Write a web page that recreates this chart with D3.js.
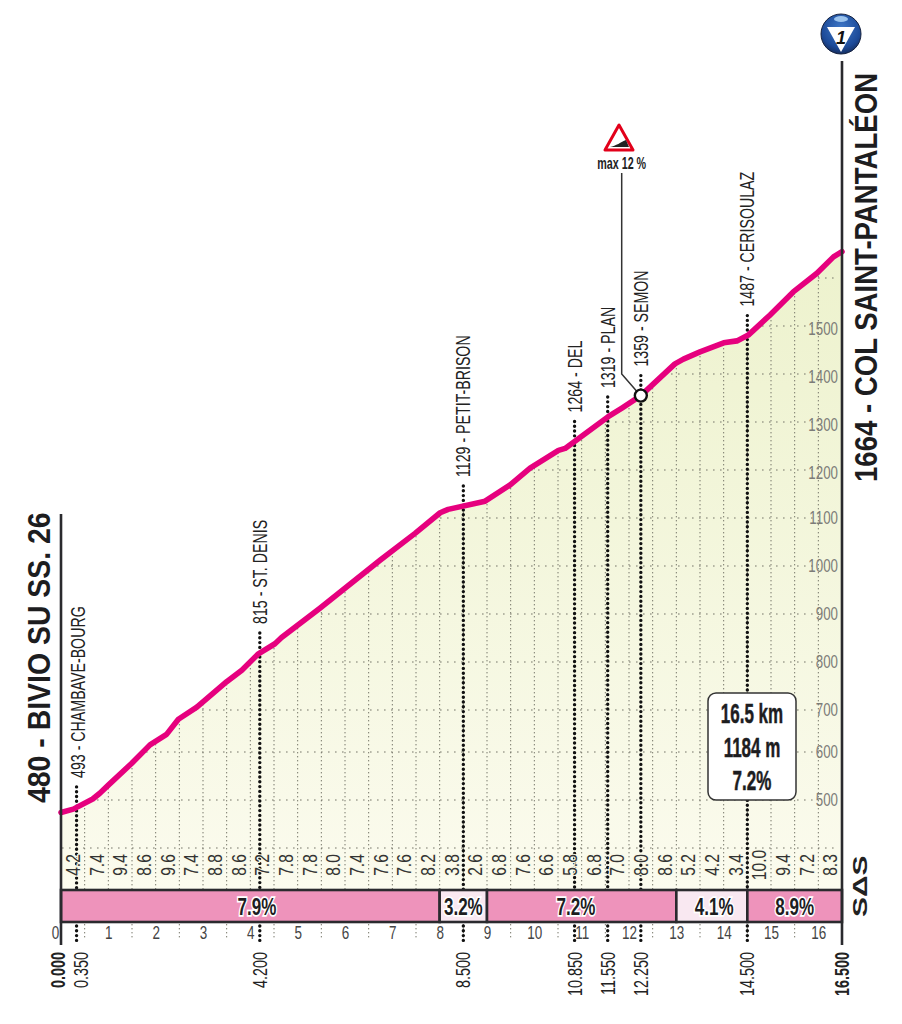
<!DOCTYPE html>
<html>
<head>
<meta charset="utf-8">
<script src="https://cdn.jsdelivr.net/npm/d3@7"></script>
<style>
body { margin: 0; background: #fff; }
text { font-family: "Liberation Sans", sans-serif; }
</style>
</head>
<body>
<script>

// profile
var profileKm = [0, 0.26, 0.67, 0.82, 1.0, 1.49, 1.88, 2.23, 2.48, 2.87, 3.5, 3.82, 4.17, 4.52, 4.66, 5.47, 6.74, 7.48, 8.01, 8.18, 8.96, 9.49, 9.91, 10.51, 10.65, 11.56, 11.85, 12.25, 12.97, 13.15, 13.5, 14.0, 14.28, 14.52, 14.98, 15.47, 15.97, 16.32, 16.5];
var profileElev = [474, 481, 502, 514, 531, 576, 617, 642, 678, 706, 759, 783, 817, 838, 851, 912, 1012, 1068, 1111, 1118, 1135, 1169, 1204, 1241, 1245, 1311, 1329, 1355, 1421, 1431, 1446, 1465, 1469, 1481, 1523, 1571, 1610, 1644, 1655];

var elevTicks = [500, 600, 700, 800, 900, 1000, 1100, 1200, 1300, 1400, 1500];
var elevGrid = [400, 500, 600, 700, 800, 900, 1000, 1100, 1200, 1300, 1400, 1500, 1600];
var kmTicks = d3.range(0, 17);

var halfKmGrades = [4.2, 7.4, 9.4, 8.6, 9.6, 7.4, 8.8, 8.6, 7.2, 7.8, 7.8, 8.0, 7.4, 7.6, 7.6, 8.2, 3.8, 2.6, 6.8, 7.6, 6.6, 5.8, 6.8, 7.0, 8.0, 8.6, 5.2, 4.2, 3.4, 10.0, 9.4, 7.2, 8.3];

var segStart = [0, 8, 9, 13, 14.5];
var segEnd = [8, 9, 13, 14.5, 16.5];
var segGrade = [7.9, 3.2, 7.2, 4.1, 8.9];
var segLabelKm = [4.14, 8.5, 10.88, 13.8, 15.5];

var wayKm = [0.35, 4.2, 8.5, 10.85, 11.55, 12.25, 14.5];
var wayNames = ["493 - CHAMBAVE-BOURG", "815 - ST. DENIS", "1129 - PETIT-BRISON", "1264 - DEL", "1319 - PLAN", "1359 - SEMON", "1487 - CERISOULAZ"];
var wayDist = ["0.350", "4.200", "8.500", "10.850", "11.550", "12.250", "14.500"];

var summary = ["16.5 km", "1184 m", "7.2%"];

var width = 902,
    height = 1024,
    bandTop = 890,
    bandBottom = 922,
    axisBottom = 945,
    ink = "#2a2a2e",
    pink = "#ee93bb",
    palePink = "#f9e8f1",
    lineColor = "#e6007e";

var x = d3.scaleLinear().domain([0, 16.5]).range([61, 842]);
// the printed grid has a kink between 600 and 700
var y = d3.scaleLinear().domain([400, 600, 700, 1600]).range([848, 752, 710, 278]);
var elevAt = d3.scaleLinear().domain(profileKm).range(profileElev);

var profile = profileKm.map(function (d, i) { return [d, profileElev[i]]; });

var svg = d3.select("body").append("svg")
            .attr("width", width)
            .attr("height", height)
            .style("display", "block");

var defs = svg.append("defs");

var fillGrad = defs.append("linearGradient").attr("id", "areaFill")
                   .attr("gradientUnits", "userSpaceOnUse")
                   .attr("x1", 0).attr("x2", 0).attr("y1", 250).attr("y2", 890);
fillGrad.append("stop").attr("offset", 0).attr("stop-color", "#edf2cd");
fillGrad.append("stop").attr("offset", 1).attr("stop-color", "#fbfbee");

var ballGrad = defs.append("radialGradient").attr("id", "ball")
                   .attr("cx", 0.5).attr("cy", 0.35).attr("r", 0.7);
ballGrad.append("stop").attr("offset", 0).attr("stop-color", "#3f78c8");
ballGrad.append("stop").attr("offset", 0.7).attr("stop-color", "#1c4a98");
ballGrad.append("stop").attr("offset", 1).attr("stop-color", "#14264f");

var area = d3.area()
             .x(function (d) { return x(d[0]); })
             .y1(function (d) { return y(d[1]); })
             .y0(bandTop);

defs.append("clipPath").attr("id", "under")
    .append("path").attr("d", area(profile));

svg.append("path").attr("d", area(profile)).attr("fill", "url(#areaFill)");

// grid, clipped to the area under the road
var grid = svg.append("g").attr("clip-path", "url(#under)");

grid.selectAll("line.v").data(d3.range(0.5, 16.5, 0.5)).enter().append("line")
    .attr("class", "v")
    .attr("x1", function (d) { return x(d); })
    .attr("x2", function (d) { return x(d); })
    .attr("y1", 240).attr("y2", bandTop)
    .attr("stroke", "#77776a").attr("stroke-width", 1)
    .attr("stroke-dasharray", "1.4,2.6");

grid.selectAll("line.h").data(elevGrid).enter().append("line")
    .attr("class", "h")
    .attr("x1", 62)
    .attr("x2", function (d) { return (d == 400 || d == 1600) ? 838 : 813; })
    .attr("y1", function (d) { return y(d); })
    .attr("y2", function (d) { return y(d); })
    .attr("stroke", "#77776a").attr("stroke-width", 1.1)
    .attr("stroke-dasharray", "1.6,5.4");

// dotted ticks under the band, odd half km only
svg.selectAll("line.lowtick").data(d3.range(0.5, 16.5, 1)).enter().append("line")
    .attr("class", "lowtick")
    .attr("x1", function (d) { return x(d); })
    .attr("x2", function (d) { return x(d); })
    .attr("y1", bandBottom + 2).attr("y2", 938)
    .attr("stroke", "#77776a").attr("stroke-dasharray", "1.4,2.6");

// waypoint dots
var wayTop = function (km) { return y(elevAt(km)) - 20; };
var wayX = function (km) { return x(km) - (km == 0.35 ? 1 : 0); };

svg.selectAll("line.way").data(wayKm).enter().append("line")
    .attr("class", "way")
    .attr("x1", wayX)
    .attr("x2", wayX)
    .attr("y1", function (d) { return wayTop(d); })
    .attr("y2", bandTop)
    .attr("stroke", "#111").attr("stroke-width", 3.4)
    .attr("stroke-linecap", "round").attr("stroke-dasharray", "0,4.8");

svg.selectAll("line.waylow").data(wayKm).enter().append("line")
    .attr("class", "waylow")
    .attr("x1", wayX)
    .attr("x2", wayX)
    .attr("y1", bandBottom + 4).attr("y2", axisBottom - 1)
    .attr("stroke", "#111").attr("stroke-width", 3.4)
    .attr("stroke-linecap", "round").attr("stroke-dasharray", "0,4.8");

// half km gradients
svg.selectAll("text.grade").data(halfKmGrades).enter().append("text")
    .attr("class", "grade")
    .attr("transform", function (d, i) { return "translate(" + (x((i + 0.5) * 0.5) + 7) + ",865) rotate(-90) scale(0.78,1)"; })
    .attr("text-anchor", "middle")
    .attr("font-size", 20)
    .attr("fill", "#333")
    .attr("stroke", "#f9f9e8").attr("stroke-width", 2.5)
    .style("paint-order", "stroke")
    .text(function (d) { return d.toFixed(1); });

// road
svg.append("path")
   .attr("d", d3.line().x(function (d) { return x(d[0]); }).y(function (d) { return y(d[1]); })(profile))
   .attr("fill", "none")
   .attr("stroke", lineColor).attr("stroke-width", 5.6)
   .attr("stroke-linecap", "round").attr("stroke-linejoin", "round");

// gradient band
svg.selectAll("rect.seg").data(segGrade).enter().append("rect")
   .attr("class", "seg")
   .attr("x", function (d, i) { return x(segStart[i]); })
   .attr("width", function (d, i) { return x(segEnd[i]) - x(segStart[i]); })
   .attr("y", bandTop).attr("height", bandBottom - bandTop)
   .attr("fill", function (d) { return d < 5 ? palePink : pink; })
   .attr("stroke", ink).attr("stroke-width", 2.6);

svg.selectAll("text.seg").data(segGrade).enter().append("text")
   .attr("class", "seg")
   .attr("transform", function (d, i) { return "translate(" + x(segLabelKm[i]) + ",914.5) scale(0.71,1)"; })
   .attr("text-anchor", "middle")
   .attr("font-size", 24).attr("font-weight", "bold")
   .attr("fill", "#1d1d1f")
   .attr("stroke", "#fff").attr("stroke-width", 3.5)
   .style("paint-order", "stroke")
   .text(function (d) { return d.toFixed(1) + "%"; });

// km axis
var kmAxis = svg.append("g")
   .attr("transform", "translate(0," + bandBottom + ")")
   .call(d3.axisBottom(x).tickValues(kmTicks).tickSize(0).tickPadding(4).tickFormat(d3.format("d")));
kmAxis.select(".domain").remove();
kmAxis.selectAll("text")
      .attr("font-size", 18).attr("fill", "#444")
      .style("font-family", "\"Liberation Sans\"")
      .attr("transform", "scale(0.75,1)")
      .attr("dx", function (d) { return d == 0 ? -8 : 0; });

// elevation axis
var elevAxis = svg.append("g")
   .attr("transform", "translate(838,0)")
   .call(d3.axisLeft(y).tickValues(elevTicks).tickSize(0).tickPadding(0).tickFormat(d3.format("d")));
elevAxis.select(".domain").remove();
elevAxis.selectAll("text")
        .attr("font-size", 18).attr("fill", "#7c7c78")
        .style("font-family", "\"Liberation Sans\"")
        .attr("transform", function (d) { return "translate(0," + (d >= 1200 ? 3 : 0) + ") scale(0.74,1)"; });

// frame lines
svg.append("line").attr("x1", x(0)).attr("x2", x(0)).attr("y1", 514).attr("y2", axisBottom)
   .attr("stroke", ink).attr("stroke-width", 2.6);
svg.append("line").attr("x1", x(16.5)).attr("x2", x(16.5)).attr("y1", 61).attr("y2", axisBottom)
   .attr("stroke", ink).attr("stroke-width", 2.6);

// waypoint names
svg.selectAll("text.wayname").data(wayNames).enter().append("text")
   .attr("class", "wayname")
   .attr("transform", function (d, i) { return "translate(" + (x(wayKm[i]) + 7) + "," + (wayTop(wayKm[i]) - 9) + ") rotate(-90) scale(0.71,1)"; })
   .attr("font-size", 20).attr("fill", "#222")
   .text(function (d) { return d; });

// distances under the axis
var distText = function (label, km, dx, bold) {
  svg.append("text")
     .attr("transform", "translate(" + (x(km) + dx) + ",952) rotate(-90) scale(0.72,1)")
     .attr("text-anchor", "end")
     .attr("font-size", 20).attr("fill", "#222")
     .attr("font-weight", bold ? "bold" : "normal")
     .text(label);
};
distText("0.000", 0, 4, true);
distText("16.500", 16.5, 7, true);
wayDist.forEach(function (d, i) { distText(d, wayKm[i], wayKm[i] == 0.35 ? 10 : 7, false); });

// end labels
svg.append("text").attr("transform", "translate(50,803) rotate(-90) scale(0.917,1)")
   .attr("font-size", 31).attr("font-weight", "bold").attr("fill", "#1d1d1f")
   .text("480 - BIVIO SU SS. 26");
svg.append("text").attr("transform", "translate(877,482) rotate(-90) scale(0.89,1)")
   .attr("font-size", 31).attr("font-weight", "bold").attr("fill", "#1d1d1f")
   .text("1664 - COL SAINT-PANTALÉON");

// max gradient marker
svg.append("path").attr("d", "M621.7,173V374L" + (x(12.25) - 3) + "," + (y(elevAt(12.25)) - 3))
   .attr("fill", "none").attr("stroke", "#333").attr("stroke-width", 1.5);
svg.append("circle").attr("cx", x(12.25)).attr("cy", y(elevAt(12.25))).attr("r", 6)
   .attr("fill", "#fff").attr("stroke", "#111").attr("stroke-width", 2.4);
svg.append("path").attr("d", "M619,125L605,150H633Z")
   .attr("fill", "#fff").attr("stroke", "#e2001a").attr("stroke-width", 3).attr("stroke-linejoin", "round");
svg.append("path").attr("d", "M610,147C616,146 621,142 626,140L629,147Z").attr("fill", "#222");
svg.append("text").attr("transform", "translate(621.7,169) scale(0.67,1)").attr("text-anchor", "middle")
   .attr("font-size", 16).attr("font-weight", "bold").attr("fill", "#222")
   .text("max 12 %");

// summary box
svg.append("rect").attr("x", 708).attr("y", 693).attr("width", 88).attr("height", 107).attr("rx", 8)
   .attr("fill", "#fff").attr("stroke", "#333").attr("stroke-width", 1.5);
svg.selectAll("text.sum").data(summary).enter().append("text")
   .attr("class", "sum")
   .attr("transform", function (d, i) { return "translate(752," + (723 + i * 33.5) + ") scale(0.63,1)"; })
   .attr("text-anchor", "middle")
   .attr("font-size", 27).attr("font-weight", "bold").attr("fill", "#1d1d1f")
   .attr("stroke", "#1d1d1f").attr("stroke-width", 0.5)
   .text(function (d) { return d; });

// SDS mark
svg.append("text").attr("transform", "translate(867,917) rotate(-90) scale(1.5,1)")
   .attr("font-size", 20).attr("font-weight", "bold").attr("fill", "#222")
   .text("SΔS");

// finish badge
svg.append("circle").attr("cx", 841).attr("cy", 34).attr("r", 20)
   .attr("fill", "url(#ball)").attr("stroke", "#16223f").attr("stroke-width", 1);
svg.append("path").attr("d", "M827,27H855L841,52Z").attr("fill", "#fff");
svg.append("ellipse").attr("cx", 841).attr("cy", 19).attr("rx", 7).attr("ry", 3).attr("fill", "#9cc4ee");
svg.append("text").attr("x", 841).attr("y", 44).attr("text-anchor", "middle")
   .attr("font-size", 18).attr("font-weight", "bold").attr("font-style", "italic").attr("fill", "#111")
   .text("1");

</script>
</body>
</html>
